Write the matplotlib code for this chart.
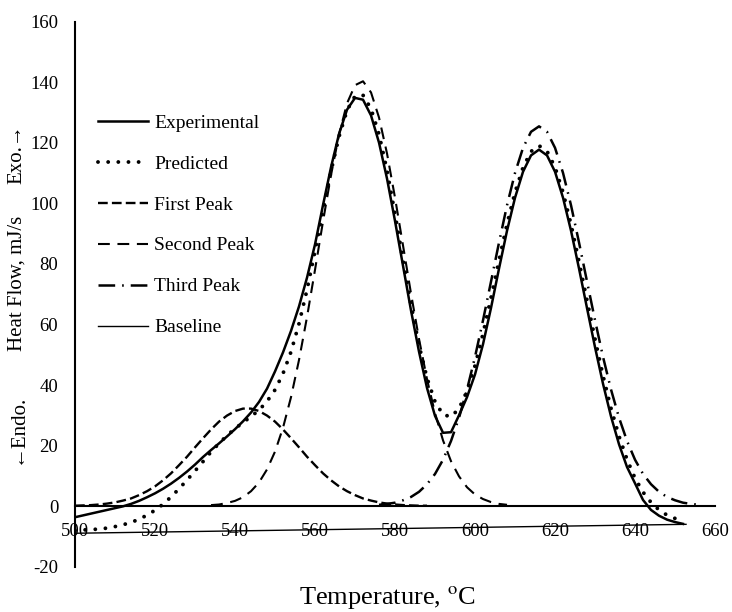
import numpy as np
import matplotlib
matplotlib.use('Agg')
import matplotlib.pyplot as plt

plt.rcParams['font.family'] = ['Liberation Serif', 'DejaVu Serif']
plt.rcParams['mathtext.fontset'] = 'stix'
plt.rcParams['lines.scale_dashes'] = False
plt.rcParams['axes.unicode_minus'] = False

# temperature grid (2 degC steps), heat flow series sampled on it
temperature = np.arange(500, 658, 2)

experimental = [-3.7, -3.1, -2.5, -1.9, -1.3, -0.7, -0.1, 0.7, 1.7, 2.9,
                4.2, 5.7, 7.4, 9.3, 11.4, 13.7, 16.2, 18.5, 20.7, 23.0,
                25.4, 28.0, 30.9, 34.4, 38.8, 44.5, 50.8, 57.9, 66.0, 75.5,
                86.5, 99.5, 112.0, 123.0, 131.0, 134.9, 134.3, 129.1, 120.1, 108.2,
                94.2, 79.4, 64.6, 51.0, 39.0, 29.8, 24.2, 24.4, 30.0, 36.0,
                43.5, 53.5, 65.5, 78.5, 91.0, 101.9, 110.5, 115.9, 117.8, 115.9,
                110.5, 101.9, 91.0, 78.5, 65.4, 52.5, 40.4, 29.6, 20.4, 12.9,
                7.5, 2.0, -1.3, -3.2, -4.5, -5.3, -5.9]

predicted = [-8.1, -7.9, -7.8, -7.6, -7.3, -6.8, -6.2, -5.4, -4.4, -3.0,
             -1.4, 0.6, 3.0, 5.7, 8.6, 11.6, 14.7, 17.9, 20.7, 23.3,
             25.6, 27.6, 29.6, 31.7, 34.6, 38.4, 43.8, 51.0, 60.3, 71.5,
             84.3, 97.7, 110.7, 122.1, 130.8, 135.5, 135.8, 131.3, 122.9, 110.9,
             96.5, 81.3, 66.5, 53.1, 42.3, 34.5, 30.2, 29.5, 32.2, 38.0,
             46.4, 57.0, 68.9, 81.2, 93.2, 103.7, 111.9, 117.2, 119.1, 117.3,
             112.0, 103.7, 93.1, 80.8, 68.0, 55.2, 43.1, 32.3, 23.1, 15.4,
             9.2, 4.6, 1.2, -1.3, -3.0, -4.1, -4.8]

# 500 - 588 degC
first_peak = [0.1, 0.2, 0.3, 0.5, 0.8, 1.2, 1.8, 2.5, 3.6, 4.9,
              6.5, 8.5, 10.8, 13.5, 16.3, 19.4, 22.4, 25.3, 27.9, 29.9,
              31.4, 32.2, 32.2, 31.4, 29.9, 27.9, 25.3, 22.4, 19.4, 16.3,
              13.5, 10.8, 8.5, 6.5, 4.9, 3.6, 2.5, 1.8, 1.2, 0.8,
              0.5, 0.3, 0.2, 0.1, 0.1]

# 534 - 608 degC
second_peak = [0.3, 0.5, 1.0, 1.7, 2.9, 4.9, 7.8, 12.1, 18.0, 25.9,
               36.0, 48.3, 62.5, 78.1, 94.1, 109.4, 122.8, 133.1, 139.1, 140.4,
               136.7, 128.4, 116.5, 101.9, 86.1, 70.2, 55.2, 41.9, 30.7, 21.7,
               14.8, 9.8, 6.2, 3.8, 2.3, 1.3, 0.7, 0.4]

# 576 - 656 degC
third_peak = [0.4, 0.7, 1.1, 1.9, 3.0, 4.7, 7.2, 10.6, 15.3, 21.5,
              29.2, 38.5, 49.3, 61.4, 74.2, 87.1, 99.4, 110.1, 118.4, 123.7,
              125.5, 123.7, 118.4, 110.1, 99.4, 87.1, 74.2, 61.4, 49.3, 38.5,
              29.2, 21.5, 15.3, 10.6, 7.2, 4.7, 3.0, 1.9, 1.1, 0.7,
              0.4]

baseline_temp = [500, 652.75]
baseline_flow = [-9.0, -6.05]

x_ticks = list(range(500, 661, 20))
y_ticks = list(range(-20, 161, 20))


def span(values, start):
    i = int((start - temperature[0]) / 2)
    return temperature[i:i + len(values)]


fig = plt.figure(figsize=(7.32, 6.12), dpi=100)
ax = fig.add_axes([0.1025, 0.0743, 0.8743, 0.8898])
ax.set_axisbelow(True)

ax.plot(span(experimental, 500), experimental, color='black', lw=1.8,
        label='Experimental')
ax.plot(span(predicted, 500), predicted, color='black', lw=2.8,
        linestyle=(0, (0.01, 7.3)), dash_capstyle='round', label='Predicted')
ax.plot(span(first_peak, 500), first_peak, color='black', lw=1.7,
        linestyle=(0, (7.0, 3.0)), label='First Peak')
ax.plot(span(second_peak, 534), second_peak, color='black', lw=1.5,
        linestyle=(0, (8.5, 5.5)), label='Second Peak')
ax.plot(span(third_peak, 576), third_peak, color='black', lw=1.8,
        linestyle=(0, (12.0, 5.0, 1.2, 5.0)), label='Third Peak')
ax.plot(baseline_temp, baseline_flow, color='black', lw=1.0, label='Baseline')

ax.set_xlim(500, 660)
ax.set_ylim(-20, 160)
ax.set_xticks(x_ticks)
ax.set_yticks(y_ticks)

for side in ['top', 'right']:
    ax.spines[side].set_visible(False)
ax.spines['bottom'].set_position(('data', 0))
ax.spines['bottom'].set_linewidth(1.5)
ax.spines['left'].set_linewidth(1.5)
ax.tick_params(length=0, labelsize=13.5)
ax.tick_params(axis='x', pad=12.5)
ax.tick_params(axis='y', pad=12)

ax.legend(loc='upper left', bbox_to_anchor=(98 / 732, 1 - 114 / 612),
          bbox_transform=fig.transFigure, frameon=False, fontsize=14,
          borderpad=0, borderaxespad=0, handlelength=2.57,
          handletextpad=0.31, labelspacing=1.2)

fig.text(0.529, 0.0245, r'Temperature, $^{\rm o}$C', fontsize=19,
         ha='center', va='center')
fig.text(0.023, 1 - 154.5 / 612, 'Exo.\u2192', fontsize=15, rotation=90,
         ha='center', va='center')
fig.text(0.023, 1 - 283.5 / 612, 'Heat Flow, mJ/s', fontsize=15, rotation=90,
         ha='center', va='center')
fig.text(0.023, 1 - 428.5 / 612, '\u2190Endo.', fontsize=15, rotation=90,
         ha='center', va='center')

fig.savefig('out.png', dpi=100)
